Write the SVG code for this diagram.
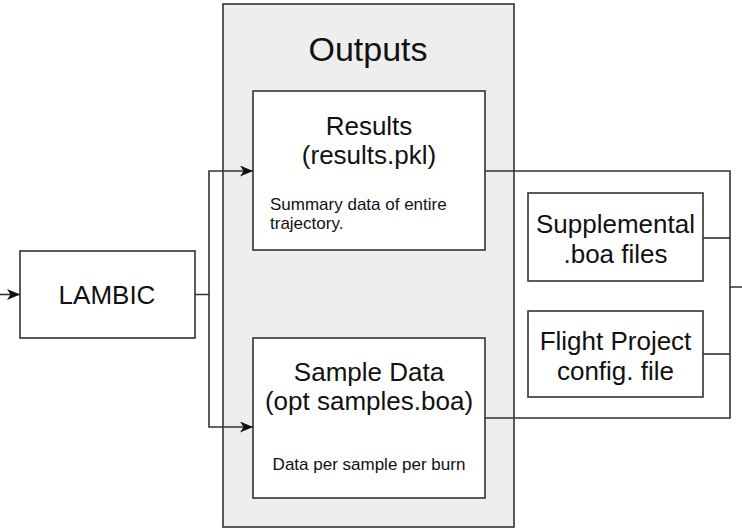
<svg xmlns="http://www.w3.org/2000/svg" width="742" height="531" viewBox="0 0 742 531">
<style>
  .box { fill: #ffffff; stroke: #333333; stroke-width: 1.6; }
  .container { fill: #eeeeee; stroke: #333333; stroke-width: 1.6; }
  .conn { fill: none; stroke: #333333; stroke-width: 1.6; }
  text { font-family: "Liberation Sans", Arial, sans-serif; fill: #111111; }
  .big { font-size: 26px; text-anchor: middle; }
  .title { font-size: 34px; text-anchor: middle; }
  .small { font-size: 17px; }
</style>
<defs>
  <marker id="arrow" markerUnits="userSpaceOnUse" markerWidth="16" markerHeight="14" refX="13" refY="5.5" orient="auto">
    <path d="M0,0 L13,5.5 L0,11 L3.5,5.5 Z" fill="#111111"/>
  </marker>
</defs>
<rect width="742" height="531" fill="#ffffff"/>

<g id="outputs">
  <rect class="container" x="223" y="4" width="291" height="523"/>
  <text class="title" x="368" y="61">Outputs</text>
</g>

<g id="lambic">
  <rect class="box" x="20" y="251" width="175" height="87"/>
  <text class="big" x="107" y="304">LAMBIC</text>
</g>

<g id="results">
  <rect class="box" x="253" y="91" width="232" height="159"/>
  <text class="big" x="369" y="135">Results</text>
  <text class="big" x="369" y="164">(results.pkl)</text>
  <text class="small" x="270" y="210">Summary data of entire</text>
  <text class="small" x="270" y="229">trajectory.</text>
</g>

<g id="sample-data">
  <rect class="box" x="253" y="338" width="232" height="160"/>
  <text class="big" x="369" y="381">Sample Data</text>
  <text class="big" x="369" y="410">(opt samples.boa)</text>
  <text class="small" x="369" y="470" text-anchor="middle">Data per sample per burn</text>
</g>

<g id="supplemental">
  <rect class="box" x="528" y="193" width="175" height="88"/>
  <text class="big" x="615.5" y="233">Supplemental</text>
  <text class="big" x="615.5" y="263">.boa files</text>
</g>

<g id="flight-project">
  <rect class="box" x="528" y="311" width="175" height="86"/>
  <text class="big" x="615.5" y="350">Flight Project</text>
  <text class="big" x="615.5" y="380">config. file</text>
</g>

<g id="connectors">
  <path class="conn" d="M0,294.5 H20" marker-end="url(#arrow)"/>
  <path class="conn" d="M195,294.5 H209 V171 H253" marker-end="url(#arrow)"/>
  <path class="conn" d="M209,294.5 V427 H253" marker-end="url(#arrow)"/>
  <path class="conn" d="M485,171 H730 V287 H742"/>
  <path class="conn" d="M485,418 H730 V287"/>
  <path class="conn" d="M703,238 H730"/>
  <path class="conn" d="M703,354 H730"/>
</g>
</svg>
